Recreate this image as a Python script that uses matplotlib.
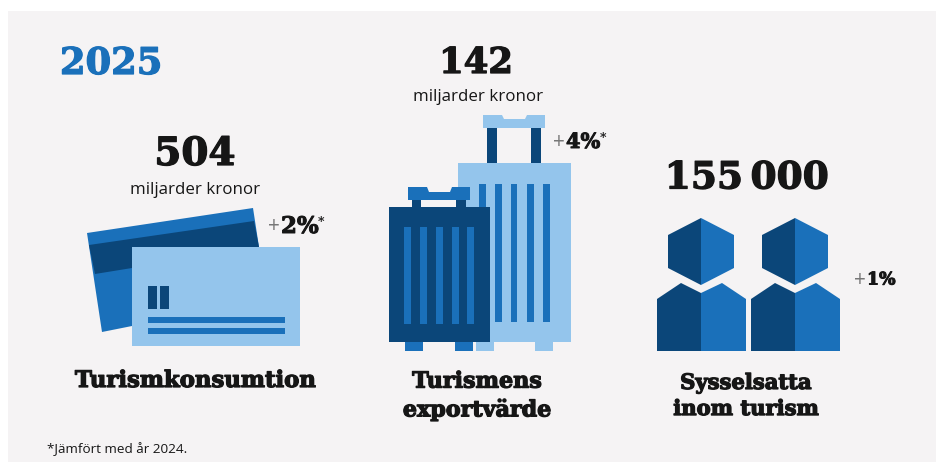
import matplotlib
matplotlib.use("Agg")
import matplotlib.pyplot as plt
import matplotlib.patheffects as pe
from matplotlib.patches import Polygon, Rectangle

# ---- content ----
year = "2025"
values = ["504", "142", "155\u2009000"]
units = ["miljarder kronor", "miljarder kronor"]
changes = ["+", "2%", "*", "4%", "*", "1%"]
labels = ["Turismkonsumtion", "Turismens\nexportvärde", "Sysselsatta\ninom turism"]
footnote = "*Jämfört med år 2024."

LIGHT, MID, DARK = "#94c5ec", "#1a70ba", "#0b4679"
BG = "#f5f3f4"
INK = "#161616"
SERIF = "DejaVu Serif"
SANS = "Open Sans"

fig = plt.figure(figsize=(9.36, 4.75), dpi=100, facecolor="white")
ax = fig.add_axes([0, 0, 1, 1])
ax.set_xlim(0, 936)
ax.set_ylim(475, 0)
ax.axis("off")


def rect(x0, x1, y0, y1, c, z=2):
    ax.add_patch(Rectangle((x0, y0), x1 - x0, y1 - y0, fc=c, ec="none", zorder=z))


def poly(pts, c, z=2):
    ax.add_patch(Polygon(pts, closed=True, fc=c, ec="none", zorder=z))


def fat(w, c):
    return [pe.withStroke(linewidth=w, foreground=c)]


def serif(x, y, s, size, c=INK, ha="center", w=0.9, **kw):
    return ax.text(x, y, s, fontsize=size, fontfamily=SERIF, fontweight="bold", color=c,
                   ha=ha, va="center", zorder=5, path_effects=fat(w, c), **kw)


def sans(x, y, s, size, c=INK, ha="center"):
    ax.text(x, y, s, fontsize=size, fontfamily=SANS, color=c, ha=ha, va="center", zorder=5)


def change(x, y, s, size, star=True):
    ax.text(x - 1, y, changes[0], fontsize=15, fontfamily=SANS, color="#777777", ha="right", va="center", zorder=5)
    t = serif(x, y, s, size, ha="left", w=0.7)
    if star:
        fig.canvas.draw()
        bb = t.get_window_extent()
        ax.text(bb.x1 - 0.5, y - 4, changes[2], fontsize=9, fontfamily=SERIF, fontweight="bold",
                color=INK, ha="left", va="center", zorder=5)


# panel
rect(8, 936, 11, 462, BG, z=0)

# header
serif(111, 64, year, 26.5, MID)

# card icon
poly([(87, 233), (253, 208), (259, 247), (132, 247), (132, 326), (102, 332)], MID)
poly([(89, 245), (254, 221), (259, 247), (132, 247), (132, 268), (95, 274)], DARK)
rect(132, 300, 247, 346, LIGHT, 3)
rect(148, 157, 286, 309, DARK, 4)
rect(160, 169, 286, 309, DARK, 4)
rect(148, 285, 317, 323, MID, 4)
rect(148, 285, 328, 334, MID, 4)

# light suitcase
poly([(483, 115), (502, 115), (504, 119), (525, 119), (527, 115), (545, 115), (545, 128), (483, 128)], LIGHT)
rect(487, 497, 128, 163, DARK)
rect(531, 541, 128, 163, DARK)
rect(458, 571, 163, 342, LIGHT)
rect(476, 494, 342, 351, LIGHT)
rect(535, 553, 342, 351, LIGHT)
for a, b in [(479, 486), (495, 502), (511, 517), (527, 534), (543, 550)]:
    rect(a, b, 184, 322, MID, 3)

# dark suitcase
poly([(408, 187), (427, 187), (429, 192), (450, 192), (452, 187), (470, 187), (470, 200), (408, 200)], MID, 4)
rect(412, 421, 200, 207, DARK, 4)
rect(456, 466, 200, 207, DARK, 4)
rect(389, 490, 207, 342, DARK, 4)
rect(405, 423, 342, 351, MID, 4)
rect(455, 473, 342, 351, MID, 4)
for a, b in [(404, 411), (420, 427), (436, 443), (452, 459), (467, 474)]:
    rect(a, b, 227, 324, MID, 5)

# people
for dx in (0, 94):
    poly([(701 + dx, 218), (668 + dx, 235), (668 + dx, 268), (701 + dx, 285)], DARK)
    poly([(701 + dx, 218), (734 + dx, 235), (734 + dx, 268), (701 + dx, 285)], MID)
    poly([(657 + dx, 299), (681 + dx, 283), (701 + dx, 293), (701 + dx, 351), (657 + dx, 351)], DARK)
    poly([(701 + dx, 293), (722 + dx, 283), (746 + dx, 299), (746 + dx, 351), (701 + dx, 351)], MID)

# values
serif(195, 154, values[0], 28)
serif(476, 63, values[1], 25.5)
serif(747, 178, values[2], 27)
sans(195, 190, units[0], 12.2)
sans(478, 97, units[1], 12.2)

# changes
change(281, 227, changes[1], 16.5)
change(566, 142, changes[3], 15)
change(867, 280, changes[5], 12.5, star=False)

# labels
serif(195, 381, labels[0], 16.4)
serif(477, 396, labels[1], 16, linespacing=1.32)
serif(746, 396, labels[2], 15.2, linespacing=1.38)

sans(47, 449, footnote, 9.7, ha="left")

fig.savefig("out.png", dpi=100, facecolor="white")
